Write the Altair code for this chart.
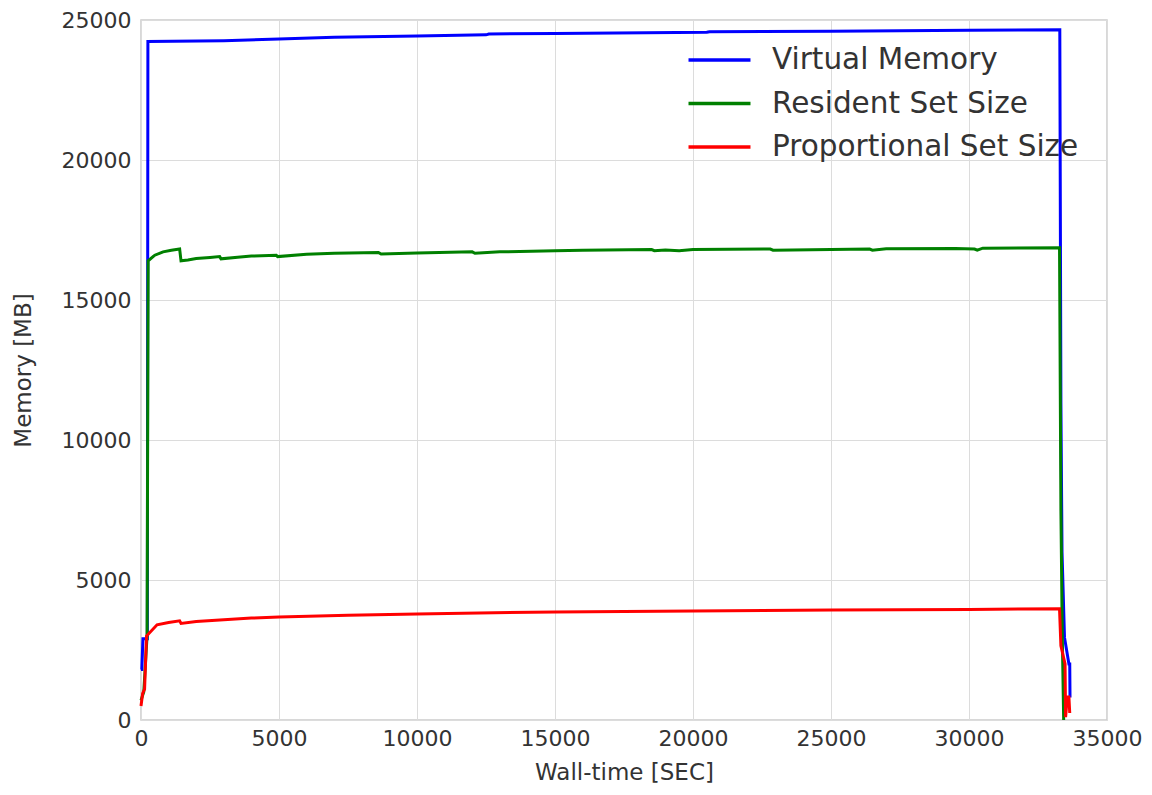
import altair as alt
import pandas as pd

# Memory traces of one job (seconds vs MB)
vm_t = [0, 30, 70, 230, 250, 3000, 5000, 7000, 10000, 12500, 12600, 15000,
        20500, 20600, 25000, 30000, 33290, 33330, 33370, 33460, 33620, 33650, 33660]
vm_v = [1800, 1800, 2900, 2900, 24230, 24260, 24320, 24380, 24430, 24470, 24500, 24520,
        24560, 24580, 24600, 24630, 24650, 11300, 6000, 2950, 2000, 2000, 800]

rss_t = [0, 100, 220, 260, 500, 800, 1100, 1400, 1450, 1700, 2000, 2500, 2850, 2900,
         3500, 4000, 4900, 4950, 6000, 7000, 8600, 8700, 10000, 12000, 12100, 13000,
         15000, 16000, 18500, 18600, 19000, 19500, 20000, 22800, 22900, 26400, 26500,
         27000, 29500, 30200, 30300, 30500, 33280, 33330, 33380, 33430]
rss_v = [700, 1000, 3000, 16400, 16600, 16720, 16780, 16820, 16400, 16430, 16480, 16520,
         16550, 16470, 16530, 16570, 16600, 16550, 16630, 16670, 16700, 16640, 16680,
         16720, 16670, 16720, 16760, 16780, 16800, 16760, 16790, 16760, 16800, 16820,
         16780, 16820, 16780, 16830, 16840, 16820, 16780, 16850, 16870, 7500, 3000, 0]

pss_t = [0, 60, 130, 200, 580, 1000, 1400, 1450, 2000, 3000, 4000, 5000, 7500, 10000,
         15000, 20000, 25000, 30000, 33280, 33330, 33480, 33500, 33560, 33620, 33650]
pss_v = [500, 950, 1100, 3000, 3400, 3480, 3540, 3450, 3520, 3580, 3640, 3680, 3740,
         3790, 3860, 3890, 3930, 3950, 3970, 2650, 2000, 100, 820, 820, 250]

names = ["Virtual Memory", "Resident Set Size", "Proportional Set Size"]
colors = ["#0000ff", "#008000", "#ff0000"]

frames = []
for name, ts, vs in zip(names, [vm_t, rss_t, pss_t], [vm_v, rss_v, pss_v]):
    frames.append(pd.DataFrame({"series": name, "t": ts, "mem": vs, "i": range(len(ts))}))
df = pd.concat(frames, ignore_index=True)

# wide, flat line swatch for the legend
swatch = "M-1.4,0H1.4"

color = alt.Color(
    "series:N",
    scale=alt.Scale(domain=names, range=colors),
    legend=alt.Legend(
        title=None,
        orient="none",
        legendX=554.5,
        legendY=16,
        symbolType=swatch,
        symbolSize=1960,
        symbolStrokeWidth=3.5,
        labelFontSize=29.5,
        labelFont="DejaVu Sans",
        labelColor="#333333",
        labelOffset=28.5,
        labelLimit=0,
        rowPadding=4.5,
        padding=0,
    ),
)

base = alt.Chart(df).mark_line(strokeWidth=3, strokeJoin="miter").encode(
    x=alt.X("t:Q", title="Wall-time [SEC]",
            scale=alt.Scale(domain=[0, 35000], nice=False),
            axis=alt.Axis(values=list(range(0, 35001, 5000)), format="d")),
    y=alt.Y("mem:Q", title="Memory [MB]",
            scale=alt.Scale(domain=[0, 25000], nice=False),
            axis=alt.Axis(values=list(range(0, 25001, 5000)), format="d")),
    color=color,
    order="i:Q",
)

layers = [base.transform_filter(alt.datum.series == n) for n in names]

chart = alt.layer(*layers).properties(
    width=966,
    height=700,
    autosize="none",
    padding={"left": 141, "top": 20, "right": 45, "bottom": 75},
    background="white",
).configure_view(
    stroke="#cccccc", strokeWidth=1.5
).configure_axis(
    grid=True,
    gridColor="#dcdcdc",
    gridWidth=1,
    domain=False,
    ticks=False,
    labelFont="DejaVu Sans",
    labelFontSize=22,
    labelColor="#333333",
    titleFont="DejaVu Sans",
    titleFontSize=23,
    titleFontWeight="normal",
    titleColor="#333333",
).configure_axisX(
    labelPadding=8, titlePadding=12, labelFlush=False, labelOverlap=False
).configure_axisY(
    labelPadding=10, titlePadding=26, labelOverlap=False
)

chart.save("out.html", embed_options={"renderer": "svg", "actions": False})
